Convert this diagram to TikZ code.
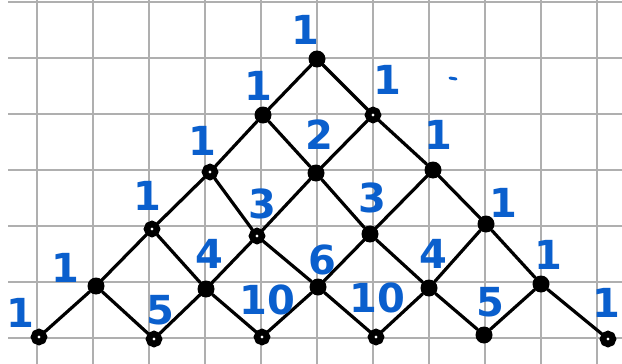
\documentclass[tikz,border=0pt]{standalone}
\usepackage{fontspec}
\setmainfont{DejaVu Sans}
\definecolor{ink}{RGB}{10,95,205}
\definecolor{gridc}{RGB}{175,175,175}
\tikzset{
  gridline/.style={draw=gridc, line width=1.8pt},
  edge/.style={draw=black, line width=3.2pt, line cap=round},
  dotnode/.style={circle, fill=black, inner sep=0pt, minimum size=17pt},
  ringnode/.style={circle, draw=black, fill=white, line width=6.5pt, inner sep=0pt, minimum size=10pt},
  lbl/.style={text=ink, font=\fontsize{40}{40}\selectfont\bfseries, inner sep=0pt}
}
\begin{document}
\begin{tikzpicture}[x=1pt,y=-1pt]
\useasboundingbox (0,0) rectangle (622,364);
\fill[white] (0,0) rectangle (622,364);
% grid
\foreach \x in {37,93,...,597} \draw[gridline] (\x,0) -- (\x,364);
\foreach \y in {2,58,...,338} \draw[gridline] (8,\y) -- (622,\y);
% lattice nodes
\node[dotnode]  (n00) at (317,59) {};
\node[dotnode]  (n10) at (263,115) {};
\node[ringnode] (n11) at (373,115) {};
\node[ringnode] (n20) at (210,172) {};
\node[dotnode]  (n21) at (316,173) {};
\node[dotnode]  (n22) at (433,170) {};
\node[ringnode] (n30) at (152,229) {};
\node[ringnode] (n31) at (257,236) {};
\node[dotnode]  (n32) at (370,234) {};
\node[dotnode]  (n33) at (486,224) {};
\node[dotnode]  (n40) at (96,286) {};
\node[dotnode]  (n41) at (206,289) {};
\node[dotnode]  (n42) at (318,287) {};
\node[dotnode]  (n43) at (429,288) {};
\node[dotnode]  (n44) at (541,284) {};
\node[ringnode] (n50) at (39,337) {};
\node[ringnode] (n51) at (154,339) {};
\node[ringnode] (n52) at (262,337) {};
\node[ringnode] (n53) at (376,337) {};
\node[dotnode]  (n54) at (484,335) {};
\node[ringnode] (n55) at (608,339) {};
% edges
\draw[edge] (n00) -- (n10); \draw[edge] (n00) -- (n11);
\draw[edge] (n10) -- (n20); \draw[edge] (n10) -- (n21);
\draw[edge] (n11) -- (n21); \draw[edge] (n11) -- (n22);
\draw[edge] (n20) -- (n30); \draw[edge] (n20) -- (n31);
\draw[edge] (n21) -- (n31); \draw[edge] (n21) -- (n32);
\draw[edge] (n22) -- (n32); \draw[edge] (n22) -- (n33);
\draw[edge] (n30) -- (n40); \draw[edge] (n30) -- (n41);
\draw[edge] (n31) -- (n41); \draw[edge] (n31) -- (n42);
\draw[edge] (n32) -- (n42); \draw[edge] (n32) -- (n43);
\draw[edge] (n33) -- (n43); \draw[edge] (n33) -- (n44);
\draw[edge] (n40) -- (n50); \draw[edge] (n40) -- (n51);
\draw[edge] (n41) -- (n51); \draw[edge] (n41) -- (n52);
\draw[edge] (n42) -- (n52); \draw[edge] (n42) -- (n53);
\draw[edge] (n43) -- (n53); \draw[edge] (n43) -- (n54);
\draw[edge] (n44) -- (n54); \draw[edge] (n44) -- (n55);
% labels
\node[lbl] (t00) at (305,30) {1};
\node[lbl] (t10) at (258,86) {1};
\node[lbl] (t11) at (387,80) {1};
\draw[ink, line width=3pt, line cap=round] (450,78) -- (456,79);
\node[lbl] (t20) at (202,141) {1};
\node[lbl] (t21) at (319,135) {2};
\node[lbl] (t22) at (438,135) {1};
\node[lbl] (t30) at (147,196) {1};
\node[lbl] (t31) at (262,204) {3};
\node[lbl] (t32) at (372,198) {3};
\node[lbl] (t33) at (503,203) {1};
\node[lbl] (t40) at (65,268) {1};
\node[lbl] (t41) at (209,254) {4};
\node[lbl] (t42) at (322,260) {6};
\node[lbl] (t43) at (433,254) {4};
\node[lbl] (t44) at (548,255) {1};
\node[lbl] (t50) at (20,313) {1};
\node[lbl] (t51) at (160,310) {5};
\node[lbl] (t52) at (267,300) {10};
\node[lbl] (t53) at (377,298) {10};
\node[lbl] (t54) at (490,302) {5};
\node[lbl] (t55) at (606,303) {1};
\end{tikzpicture}
\end{document}
